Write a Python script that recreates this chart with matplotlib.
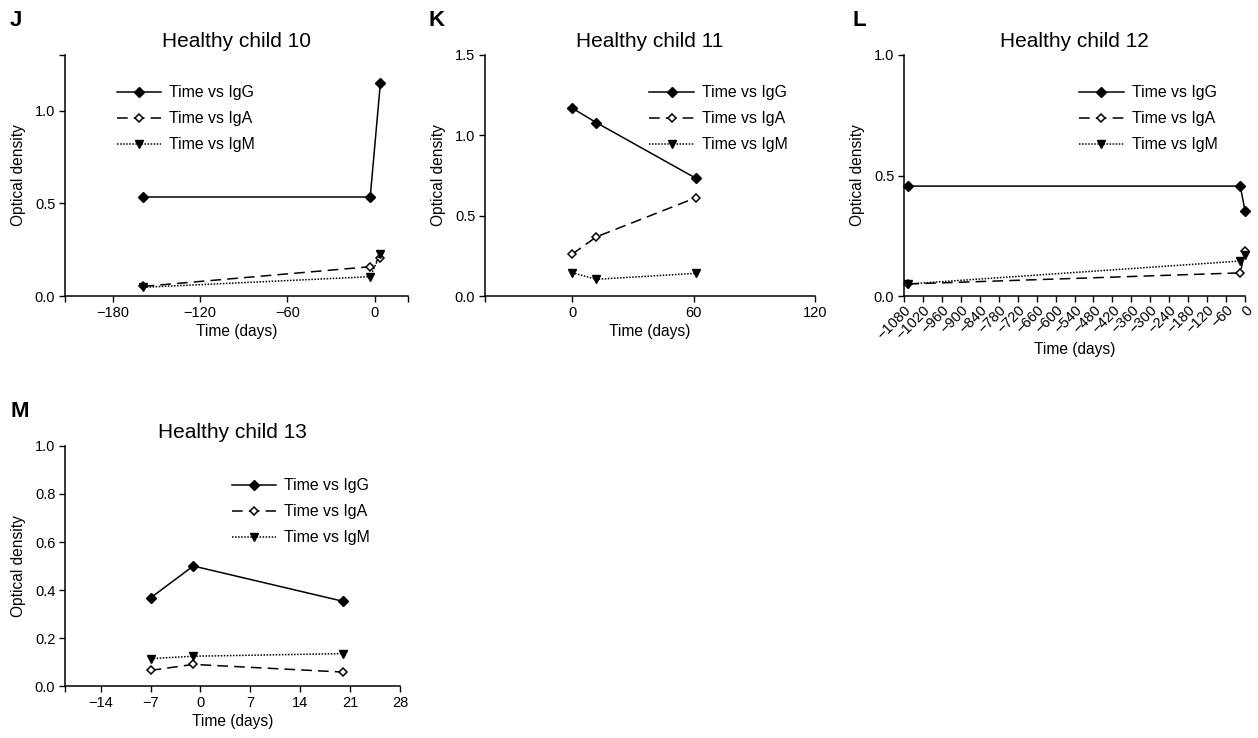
import numpy as np
import matplotlib
matplotlib.use('Agg')
import matplotlib.pyplot as plt

plt.rcParams['font.family'] = ['Liberation Sans', 'DejaVu Sans']

# child 10
days10 = [-159, -3, 4]
igg10 = [0.534, 0.534, 1.149]
iga10 = [0.052, 0.158, 0.206]
igm10 = [0.047, 0.104, 0.226]

# child 11
days11 = [0, 12, 61]
igg11 = [1.170, 1.079, 0.734]
iga11 = [0.260, 0.368, 0.611]
igm11 = [0.145, 0.104, 0.141]

# child 12
days12 = [-1066, -15, 0]
igg12 = [0.456, 0.456, 0.354]
iga12 = [0.050, 0.096, 0.185]
igm12 = [0.050, 0.145, 0.170]

# child 13
days13 = [-7, -1, 20]
igg13 = [0.367, 0.500, 0.353]
iga13 = [0.065, 0.090, 0.058]
igm13 = [0.114, 0.124, 0.135]

titles = ['Healthy child 10', 'Healthy child 11', 'Healthy child 12', 'Healthy child 13']
letters = ['J', 'K', 'L', 'M']

W, H = 1258, 738
fig = plt.figure(figsize=(W / 100, H / 100), dpi=100)


def addAxes(left, right, top, bottom):
	return fig.add_axes([left / W, 1 - bottom / H, (right - left) / W, (bottom - top) / H])


def drawPanel(ax, days, igg, iga, igm, title, xlim, xticks, ylim, yticks, legX, legY, rotate=False):
	ax.plot(days, igg, color='k', lw=1.1, marker='D', ms=5, label='Time vs IgG', clip_on=False)
	ax.plot(days, iga, color='k', lw=1.1, ls=(0, (7, 4)), marker='D', ms=4.5, mfc='white',
		mew=1.1, label='Time vs IgA', clip_on=False)
	ax.plot(days, igm, color='k', lw=1.1, ls=(0, (1, 1)), marker='v', ms=5.5, label='Time vs IgM', clip_on=False)

	ax.set_xlim(xlim)
	ax.set_ylim(ylim)
	ax.set_xticks(xticks)
	ax.set_yticks(yticks)
	ax.set_yticklabels(['%.1f' % t for t in yticks])
	# end ticks at the axis ends, as in the original
	ax.set_xticks(list(xlim), minor=True)
	ax.set_yticks(list(ylim), minor=True)
	ax.tick_params(which='both', direction='out', length=4, width=1, labelsize=10.5, pad=3)
	ax.spines['top'].set_visible(False)
	ax.spines['right'].set_visible(False)
	ax.spines['left'].set_linewidth(1.1)
	ax.spines['bottom'].set_linewidth(1.1)
	xlabelpad = 3
	if rotate:
		ax.tick_params(axis='x', pad=1)
		for lab in ax.get_xticklabels():
			lab.set_rotation(45)
			lab.set_ha('right')
			lab.set_rotation_mode('anchor')
		xlabelpad = 0

	ax.set_title(title, fontsize=15, pad=6)
	ax.set_xlabel('Time (days)', fontsize=11.2, labelpad=xlabelpad)
	ax.set_ylabel('Optical density', fontsize=11.2, labelpad=6)
	ax.legend(loc='upper left', bbox_to_anchor=(legX, legY), frameon=False, fontsize=11.4,
		handlelength=2.8, handletextpad=0.5, labelspacing=0.7, borderpad=0, borderaxespad=0)


ax = addAxes(65, 408, 55, 296)
drawPanel(ax, days10, igg10, iga10, igm10, titles[0], (-213, 23), [-180, -120, -60, 0],
	(0, 1.3), [0.0, 0.5, 1.0], 0.152, 0.875)

ax = addAxes(485, 815, 55, 296)
drawPanel(ax, days11, igg11, iga11, igm11, titles[1], (-43, 120), [0, 60, 120],
	(0, 1.5), [0.0, 0.5, 1.0, 1.5], 0.498, 0.875)

ax = addAxes(904, 1245, 55, 296)
drawPanel(ax, days12, igg12, iga12, igm12, titles[2], (-1080, 0), list(range(-1080, 1, 60)),
	(0, 1.0), [0.0, 0.5, 1.0], 0.514, 0.875, rotate=True)

ax = addAxes(65, 400, 446, 686)
drawPanel(ax, days13, igg13, iga13, igm13, titles[3], (-19, 28), [-14, -7, 0, 7, 14, 21, 28],
	(0, 1.0), [0.0, 0.2, 0.4, 0.6, 0.8, 1.0], 0.499, 0.866)

letterFont = ['Liberation Sans Narrow', 'Liberation Sans', 'DejaVu Sans']
letterPos = [(10, 26), (429, 26), (852, 26), (10, 417)]
for letter, (lx, ly) in zip(letters, letterPos):
	fig.text(lx / W, 1 - ly / H, letter, fontsize=16, fontweight='bold', family=letterFont, va='baseline')

fig.savefig('out.png', dpi=100)
